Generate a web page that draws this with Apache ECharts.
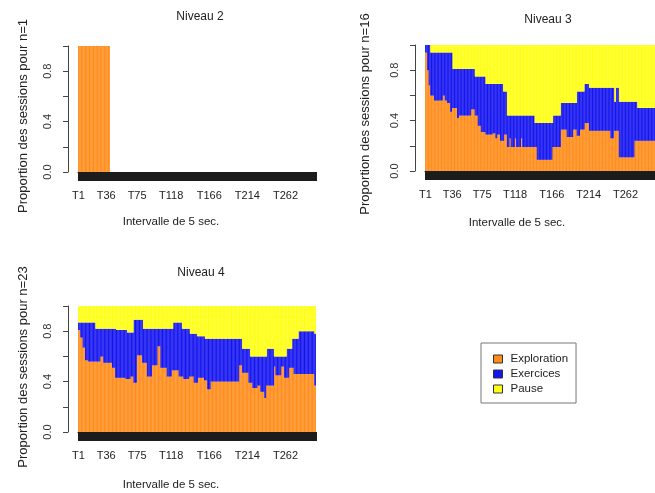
<!DOCTYPE html>
<html><head><meta charset="utf-8">
<script src="https://cdn.jsdelivr.net/npm/echarts@6/dist/echarts.min.js"></script>
<style>html,body{margin:0;padding:0;background:#fff}#c{width:655px;height:493px}</style>
</head><body><div id="c"></div><script>
const tickLabels = ['T1','T36','T75','T118','T166','T214','T262'];
const nBars = 300;
const categories = Array.from({length: nBars}, (_, i) => 'T' + (i + 1));
const seriesNames = ['Exploration', 'Exercices', 'Pause'];
const panelTitles = ['Niveau 2', 'Niveau 3', 'Niveau 4'];
const yTitles = ['Proportion des sessions pour n=1', 'Proportion des sessions pour n=16', 'Proportion des sessions pour n=23'];
const xTitle = 'Intervalle de 5 sec.';
const yLabelsShown = [0, 0.4, 0.8];

// Niveau 2
const expl2 = [1,1,1,1,1,1,1,1,1,1, 1,1,1,1,1,1,1,1,1,1, 1,1,1,1,1,1,1,1,1,1, 1,1,1,1,1,1,1,1,1,1];
const exer2 = [];
const pause2 = [];

// Niveau 3
const expl3 = [
.94,.94,.94, .8,.8, .68,.68, .6,.6,.6,.6,.6,
.56,.56,.56,.56,.56,.56,.56,.56,.56,.56, .56,
.6,.6,.6, .56,.56,.56, .54,.54,.54,.54, .47,.47, .5,
.5,.5,.5,.5,.5,.5, .42,.42,
.44,.44,.44,.44,.44,.44,.44,.44,.44,.44, .44,.44,.44,.44,.44,.44,
.49,.49,.49,.49,.49, .44,.44,.44,.44, .36,.36,.36,.36, .31,.31,.31,.31,.31,.31,
.29,.29,.29,.29,.29,.29,.29,.29,.29, .3,.3,.3,.3, .26,.26, .29,.29,.29,.29,
.24,.24,.24,.24, .24, .29,.29,.29,.29,
.19,.19,.19, .26,.26, .19,.19,.19,.19,.19, .26,.26, .19,.19,.19,.19,.19,.19, .26,.26,
.19,.19,.19,.19,.19,.19,.19,.19,.19,.19, .19,.19,.19,.19,.19,.19, .19,.19,.19,
.09,.09,.09,.09,.09,.09,.09,.09,.09,.09, .09,.09,.09,.09,.09,.09,.09,.09,.09,.09,
.19, .19,.19,.19,.19,.19,.19,.19,.19,.19,.19,
.33,.33,.33,.33,.33,.33,.33,.33, .27,.27,.27,.27,.27,.27,.27,.27, .33,.33,.33,.33,.33,
.28,.28,.28,.28, .33,.33,.33,.33,.33,.33, .38,.38,.38,.38,.38,.38,
.32,.32,.32,.32,.32,.32,.32,.32,.32,.32, .32,.32,.32,.32,.32,.32,.32,.32,.32,.32, .32,.32,.32,.32,.32,.32,.32,.32,
.26,.26,.26,.26, .32,.32,.32,.32,.32,.32,.32,
.11,.11,.11,.11,.11,.11,.11,.11,.11,.11, .11,.11,.11,.11,.11,.11,.11,.11,.11,.11,
.24,.24,.24,.24,.24,.24,.24,.24,.24,.24, .24,.24,.24,.24,.24,.24,.24,.24,.24,.24, .24,.24,.24,.24,.24,.24,.24
];
const exer3 = [
.06,.06,.06, .2,.2, .32,.32, .34,.34,.34,.34,.34,
.38,.38,.38,.38,.38,.38,.38,.38,.38,.38, .38,
.34,.34,.34, .38,.38,.38, .4,.4,.4,.4, .47,.47, .44,
.31,.31,.31,.31,.31,.31, .39,.39,
.37,.37,.37,.37,.37,.37,.37,.37,.37,.37, .37,.37,.37,.37,.37,.37,
.32,.32,.32,.32,.32, .31,.31,.31,.31, .39,.39,.39,.39, .44,.44,.44,.44,.44,.44,
.4,.4,.4,.4,.4,.4,.4,.4,.4, .39,.39,.39,.39, .43,.43, .4,.4,.4,.4,
.45,.45,.45,.45, .39, .34,.34,.34,.34,
.25,.25,.25, .18,.18, .25,.25,.25,.25,.25, .18,.18, .25,.25,.25,.25,.25,.25, .18,.18,
.25,.25,.25,.25,.25,.25,.25,.25,.25,.25, .25,.25,.25,.25,.25,.25, .19,.19,.19,
.29,.29,.29,.29,.29,.29,.29,.29,.29,.29, .29,.29,.29,.29,.29,.29,.29,.29,.29,.29,
.19, .25,.25,.25,.25,.25,.25,.25,.25,.25,.25,
.21,.21,.21,.21,.21,.21,.21,.21, .27,.27,.27,.27,.27,.27,.27,.27, .21,.21,.21,.21,.21,
.35,.35,.35,.35, .3,.3,.3,.3,.3,.3, .31,.31,.31,.31,.31,.31,
.34,.34,.34,.34,.34,.34,.34,.34,.34,.34, .34,.34,.34,.34,.34,.34,.34,.34,.34,.34, .34,.34,.34,.34,.34,.34,.34,.34,
.4,.4,.4,.4, .34, .23,.23, .34,.34,.34,.34,
.44,.44,.44,.44,.44,.44,.44,.44,.44,.44, .44,.44,.44,.44,.44,.44,.44,.44,.44,.44,
.31,.31,.31,.31,
.26,.26,.26,.26,.26,.26,.26,.26,.26,.26, .26,.26,.26,.26,.26,.26,.26,.26,.26,.26, .26,.26,.26
];
const pause3 = [
0,0,0,0,0,0,0,
.06,.06,.06,.06,.06,.06,.06,.06,.06,.06, .06,.06,.06,.06,.06,.06,.06,.06,.06,.06, .06,.06,.06,.06,.06,.06,.06,.06,.06,
.19,.19,.19,.19,.19,.19,.19,.19,.19,.19, .19,.19,.19,.19,.19,.19,.19,.19,.19,.19, .19,.19,.19,.19,.19,.19,.19,.19,.19,
.25,.25,.25,.25,.25,.25,.25,.25,.25,.25, .25,.25,.25,.25,
.31,.31,.31,.31,.31,.31,.31,.31,.31,.31, .31,.31,.31,.31,.31,.31,.31,.31,.31,.31, .31,.31,.31,
.37,.37,.37,.37,.37,
.56,.56,.56,.56,.56,.56,.56,.56,.56,.56, .56,.56,.56,.56,.56,.56,.56,.56,.56,.56, .56,.56,.56,.56,.56,.56,.56,.56,.56,.56, .56,.56,.56,.56,.56,.56,
.62,.62,.62,.62,.62,.62,.62,.62,.62,.62, .62,.62,.62,.62,.62,.62,.62,.62,.62,.62, .62,.62,.62,.62,
.56,.56,.56,.56,.56,.56,.56,.56,.56,.56,
.46,.46,.46,.46,.46,.46,.46,.46,.46,.46, .46,.46,.46,.46,.46,.46,.46,.46,.46,.46, .46,
.37,.37,.37,.37,.37,.37,.37,.37,.37,.37,
.31,.31,.31,.31,.31,.31,
.34,.34,.34,.34,.34,.34,.34,.34,.34,.34, .34,.34,.34,.34,.34,.34,.34,.34,.34,.34, .34,.34,.34,.34,.34,.34,.34,.34,.34,.34, .34,.34,.34,
.45,.45, .34,.34,.34,.34,
.45,.45,.45,.45,.45,.45,.45,.45,.45,.45, .45,.45,.45,.45,.45,.45,.45,.45,.45,.45, .45,.45,.45,.45,
.5,.5,.5,.5,.5,.5,.5,.5,.5,.5, .5,.5,.5,.5,.5,.5,.5,.5,.5,.5, .5,.5,.5
];

// Niveau 4
const expl4 = [
.81,.81,.81, .75,.75,.75, .67,.67,.67, .57,.57,.57,.57,
.56,.56,.56,.56,.56,.56,.56,.56,.56,.56, .56,.56,.56,.56,.56,
.6,.6,.6,.6, .55,.55,.55,.55,.55,.55,.55,.55,.55,.55,.55, .51,.51,.51,.51,
.43,.43,.43,.43,.43,.43,.43,.43,.43,.43, .43,.43,.43,
.42,.42,.42,.42,.42,.42, .44,.44,.44,.44, .39,.39,.39,.39,
.61,.61,.61,.61,.61,.61,.61, .55,.55,.55,.55,.55,.55, .44,.44,.44,.44,.44,.44,
.53,.53,.53,.53,.53,.53,.53, .68,.68,.68,.68, .51,.51,.51,.51,.51,.51,.51,.51,
.44,.44,.44,.44,.44,.44, .49,.49,.49,.49,.49,.49,.49,.49,.49, .44,.44,.44,.44,.44,.44,
.42,.42,.42,.42,.42,.42,.42, .44,.44,.44,.44,.44,.44, .39,.39,.39,.39,.39,
.43,.43,.43,.43,.43,.43,.43,.43, .41,.41,.41,.41, .34,.34,.34,.34,
.4,.4,.4,.4,.4,.4,.4,.4,.4,.4, .4,.4,.4,.4,.4,.4,.4,.4,.4,.4, .4,.4,.4,.4,.4,.4,.4,.4,.4,.4, .4,.4,.4,.4,.4,.4,
.53,.53,.53,.53, .47,.47,.47,.47,.47,.47,.47,.47, .39,.39,.39,.39,.39,
.35,.35,.35,.35,.35,.35, .37,.37,.37,.37, .32,.32,.32,.32,.32, .27,.27,
.37,.37,.37,.37,.37,.37,.37,.37,.37,.37, .52,.52, .45,.45,.45,.45,.45,.45,.45,
.52,.52,.52,.52, .43,.43,.43,.43,.43,.43, .51,.51,.51,.51,.51,.51,
.46,.46,.46,.46,.46,.46,.46,.46,.46,.46, .46,.46,.46,.46,.46,.46,.46,.46,.46,.46, .46,.46,.46,.46,.46,.46,
.37,.37
];
const exer4 = [
.06,.06,.06, .12,.12,.12, .2,.2,.2, .3,.3,.3,.3,
.31,.31,.31,.31,.31,.31,.31,.31,.31, .26,.26,.26,.26,.26,.26,
.22,.22,.22,.22, .27,.27,.27,.27,.27,.27,.27,.27,.27,.27,.27, .31,.31,.31,.31, .39,
.38,.38,.38,.38,.38,.38,.38,.38,.38,.38,.38,.38, .39,.39,
.37,.37,.37,.37, .35,.35,.35,.35, .5,.5,.5,.5,
.28,.28,.28,.28,.28,.28,.28, .34, .27,.27,.27,.27,.27, .38,.38,.38,.38,.38,.38,
.29,.29,.29,.29,.29,.29,.29, .14,.14,.14,.14, .31,.31,.31,.31,.31,.31,.31,.31,
.38,.38,.38,.38,.38,.38, .33,.33, .38,.38,.38,.38,.38,.38,.38, .43,.43,.43,.43, .38,.38,
.4,.4,.4,.4,.4,.4,.4, .38, .34,.34,.34,.34,.34, .39,.39,.39,.39, .37,
.33,.33,.33,.33,.33,.33,.33,.33, .35, .33,.33,.33, .4,.4,.4,.4,
.34,.34,.34,.34,.34,.34,.34,.34,.34,.34, .34,.34,.34,.34,.34,.34,.34,.34,.34,.34, .34,.34,.34,.34,.34,.34,.34,.34,.34,.34, .34,.34,.34,.34,.34,.34,
.21,.21,.21,.21, .19,.19,.19,.19,.19,.19,.19,.19, .27,.27, .21,.21,.21,
.25,.25,.25,.25,.25,.25, .23,.23,.23,.23, .28,.28,.28,.28,.28, .33,.33, .23,
.29,.29,.29,.29,.29,.29,.29,.29,.29, .08,.08, .15,.15,.15,.15,.15,.15,.15,
.08,.08,.08,.08, .17,.17,.17, .23,.23,.23, .15,.15,.15,.15, .23,.23,
.28,.28,.28,.28,.28,.28,
.34,.34,.34,.34,.34,.34,.34,.34,.34,.34, .34,.34,.34,.34,.34,.34,.34,.34,.34,.34,
.41,.41
];
const pause4 = [
.13,.13,.13,.13,.13,.13,.13,.13,.13,.13, .13,.13,.13,.13,.13,.13,.13,.13,.13,.13, .13,.13,
.18,.18,.18,.18,.18,.18,.18,.18,.18,.18, .18,.18,.18,.18,.18,.18,.18,.18,.18,.18, .18,.18,.18,.18,.18,.18,
.19,.19,.19,.19,.19,.19,.19,.19,.19,.19, .19,.19,.19,.19,
.21,.21,.21,.21,.21,.21,.21,.21,
.11,.11,.11,.11,.11,.11,.11,.11,.11,.11, .11,.11,
.18,.18,.18,.18,.18,.18,.18,.18,.18,.18, .18,.18,.18,.18,.18,.18,.18,.18,.18,.18, .18,.18,.18,.18,.18,.18,.18,.18,.18,.18, .18,.18,.18,.18,.18,.18,.18,.18,
.13,.13,.13,.13,.13,.13,.13,.13,.13,.13, .13,
.18,.18,.18,.18,.18,.18,.18,.18,.18,.18,
.22,.22,.22,.22,.22,.22,.22,.22,.22,
.24,.24,.24,.24,.24,.24,.24,.24,.24,.24,
.26,.26,.26,.26,.26,.26,.26,.26,.26,.26, .26,.26,.26,.26,.26,.26,.26,.26,.26,.26, .26,.26,.26,.26,.26,.26,.26,.26,.26,.26, .26,.26,.26,.26,.26,.26,.26,.26,.26,.26, .26,.26,.26,.26,.26,.26,.26,
.34,.34,.34,.34,.34,.34,.34,.34,.34,.34,
.4,.4,.4,.4,.4,.4,.4,.4,.4,.4, .4,.4,.4,.4,.4,.4,.4,.4,.4,.4, .4,
.34,.34,.34,.34,.34,.34,.34,.34,.34,
.4,.4,.4,.4,.4,.4,.4,.4,.4,.4, .4,.4,.4,.4,.4,.4,
.34,.34,.34,.34,.34,.34,.34,
.26,.26,.26,.26,.26,.26,.26,.26,
.2,.2,.2,.2,.2,.2,.2,.2,.2,.2, .2,.2,.2,.2,.2,.2,.2,.2,.2,.2,
.22,.22
];

const colors = ['#ff8c1a', '#1414f0', '#ffff14'];
const FONT = "'Liberation Sans', Arial, Helvetica, sans-serif";
const panels = [
  {left: 78, top: 46, data: [expl2, exer2, pause2], title: [200, 17], yt: [23, 116], xt: [171, 222]},
  {left: 425, top: 45, data: [expl3, exer3, pause3], title: [548, 20], yt: [365, 114], xt: [517, 223]},
  {left: 78, top: 306, data: [expl4, exer4, pause4], title: [201, 273], yt: [23, 367], xt: [171, 485]}
];

const grid = [], xAxis = [], yAxis = [], series = [], graphic = [];
panels.forEach((p, pi) => {
  grid.push({left: p.left, top: p.top, width: 238, height: 126});
  xAxis.push({
    gridIndex: pi, type: 'category', data: categories, boundaryGap: true, offset: 1,
    axisLine: {show: true, lineStyle: {color: '#222', width: 1}},
    axisTick: {show: true, interval: 0, length: 9, lineStyle: {color: '#1c1c1c', width: 1}},
    axisLabel: {interval: (i, v) => tickLabels.includes(v), margin: 17, fontSize: 11, color: '#222', fontFamily: FONT},
    splitLine: {show: false}
  });
  yAxis.push({
    gridIndex: pi, type: 'value', min: 0, max: 1, interval: 0.2, offset: 10,
    axisLine: {show: true, lineStyle: {color: '#444'}},
    axisTick: {show: true, length: 5, lineStyle: {color: '#444'}},
    axisLabel: {rotate: 90, margin: 15, fontSize: 11, color: '#333', fontFamily: FONT,
      formatter: v => yLabelsShown.some(s => Math.abs(s - v) < 1e-9) ? v.toFixed(1) : ''},
    splitLine: {show: false}
  });
  seriesNames.forEach((name, k) => {
    series.push({
      type: 'bar', name: name, xAxisIndex: pi, yAxisIndex: pi, stack: 's' + pi,
      data: p.data[k], itemStyle: {color: colors[k]}, barCategoryGap: '0%', barGap: '0%',
      silent: true, animation: false
    });
  });
  graphic.push({type: 'text', x: p.title[0], y: p.title[1],
    style: {text: panelTitles[pi], font: '12px ' + FONT, fill: '#222', textAlign: 'center', textVerticalAlign: 'middle'}});
  graphic.push({type: 'text', x: p.xt[0], y: p.xt[1],
    style: {text: xTitle, font: '11.5px ' + FONT, fill: '#222', textAlign: 'center', textVerticalAlign: 'middle'}});
  graphic.push({type: 'text', x: p.yt[0], y: p.yt[1], rotation: Math.PI / 2,
    style: {text: yTitles[pi], font: '13px ' + FONT, fill: '#222', textAlign: 'center', textVerticalAlign: 'middle'}});
});

const chart = echarts.init(document.getElementById('c'), null, {renderer: 'canvas'});
chart.setOption({
  animation: false,
  backgroundColor: '#fff',
  grid, xAxis, yAxis, series, graphic,
  legend: {
    data: seriesNames, orient: 'vertical', left: 481, top: 343,
    padding: [10, 8, 8, 12], itemGap: 3, itemWidth: 9, itemHeight: 8,
    borderColor: '#777', borderWidth: 1, icon: 'rect', selectedMode: false,
    itemStyle: {borderColor: '#333', borderWidth: 1},
    textStyle: {fontSize: 11.5, color: '#222', fontFamily: FONT, padding: [0, 0, 0, 3], lineHeight: 12}
  }
});
</script></body></html>
